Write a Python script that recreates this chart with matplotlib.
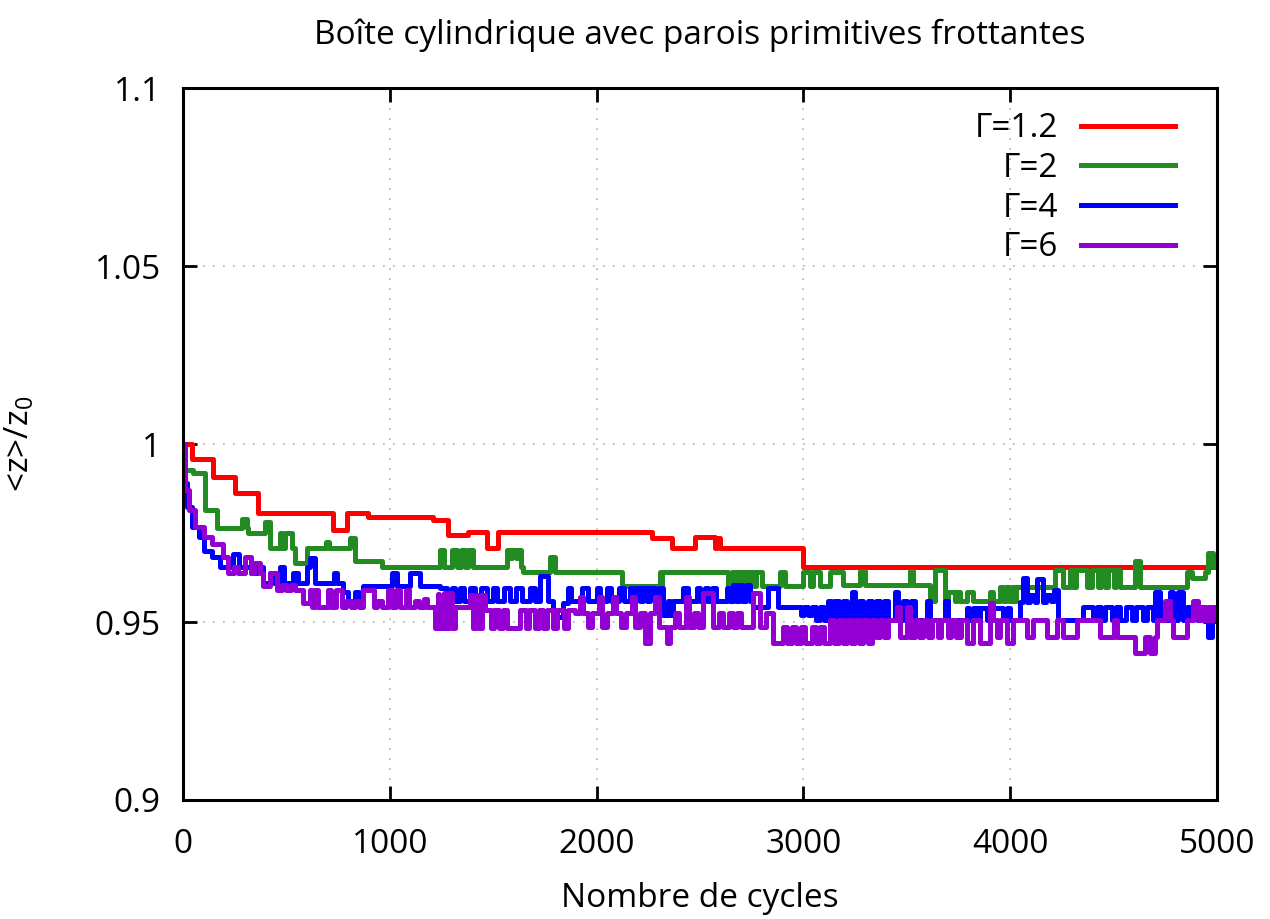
#!/usr/bin/env python3
"""Figure: <z>/z0 vs number of cycles, cylindrical box with rough primitive walls."""
import matplotlib
matplotlib.use("Agg")
import matplotlib.pyplot as plt
from matplotlib.ticker import FixedLocator, FuncFormatter

matplotlib.rcParams["font.family"] = ["Open Sans", "DejaVu Sans"]
matplotlib.rcParams["mathtext.fontset"] = "custom"
matplotlib.rcParams["mathtext.rm"] = "Open Sans"
matplotlib.rcParams["mathtext.it"] = "Open Sans"

# ── data (steps) ──────────────────────────────────────────────────────────────
red_x = [0, 45, 145, 250, 363, 725, 792, 895, 1209, 1282, 1378, 1470, 1523,
         2268, 2364, 2476, 2573, 2583, 2597, 2998, 5000]
red_y = [1.0, 0.9958, 0.9907, 0.9862, 0.9807, 0.9758, 0.9807, 0.9796, 0.9787,
         0.9744, 0.9753, 0.9707, 0.9753, 0.9735, 0.9707, 0.974, 0.9707, 0.9735,
         0.9707, 0.9655, 0.9655]

green_x = [0, 10, 48, 106, 164, 285, 310, 314, 397, 421, 469, 480, 495, 527,
           540, 600, 690, 705, 808, 832, 962, 1243, 1262, 1301, 1325, 1345,
           1364, 1378, 1402, 1567, 1580, 1590, 1610, 1620, 1635, 1644, 1775,
           1799, 2123, 2307, 2312, 2318, 2331, 2635, 2655, 2670, 2680, 2700,
           2710, 2730, 2740, 2760, 2770, 2800, 2887, 2911, 2998, 3032, 3046,
           3080, 3129, 3191, 3274, 3298, 3515, 3530, 3612, 3636, 3685, 3700,
           3733, 3745, 3755, 3791, 3820, 3903, 3917, 3950, 3965, 3980, 3995,
           4010, 4020, 4030, 4217, 4255, 4289, 4304, 4318, 4371, 4396, 4410,
           4425, 4440, 4460, 4475, 4500, 4510, 4530, 4604, 4628, 4855, 4880,
           4940, 4957, 4980, 5000]
green_y = [1.0, 0.9927, 0.9918, 0.9815, 0.9763, 0.979, 0.9763, 0.975, 0.978,
           0.9708, 0.975, 0.9708, 0.975, 0.9708, 0.9666, 0.9708, 0.9725, 0.9708,
           0.9735, 0.967, 0.9655, 0.9702, 0.9655, 0.9702, 0.9655, 0.9702,
           0.9655, 0.9702, 0.9655, 0.9702, 0.968, 0.9702, 0.968, 0.9702, 0.9655,
           0.964, 0.9683, 0.964, 0.9602, 0.964, 0.9602, 0.964, 0.964, 0.9602,
           0.964, 0.9602, 0.964, 0.9602, 0.964, 0.9602, 0.964, 0.9602, 0.964,
           0.9602, 0.964, 0.9602, 0.964, 0.9602, 0.964, 0.9602, 0.964, 0.9605,
           0.9643, 0.9605, 0.9643, 0.9605, 0.956, 0.9646, 0.956, 0.9585, 0.956,
           0.9585, 0.956, 0.9585, 0.956, 0.9585, 0.956, 0.9598, 0.956, 0.9598,
           0.956, 0.9598, 0.956, 0.9598, 0.9646, 0.9598, 0.9646, 0.9598, 0.9646,
           0.9598, 0.9646, 0.9646, 0.9598, 0.9646, 0.9598, 0.9646, 0.9598,
           0.9646, 0.9598, 0.967, 0.9598, 0.964, 0.9625, 0.964, 0.9693, 0.9655,
           0.9655]

blue_x = [0, 8, 20, 45, 75, 100, 140, 180, 240, 270, 330, 360, 387, 420, 440,
          470, 490, 530, 555, 600, 614, 640, 730, 745, 775, 800, 830, 850, 870,
          1011, 1035, 1098, 1146, 1243, 1277, 1300, 1315, 1340, 1360, 1390,
          1410, 1440, 1470, 1500, 1520, 1550, 1580, 1610, 1640, 1680, 1700,
          1727, 1765, 1790, 1838, 1860, 1875, 1930, 1960, 2000, 2015, 2050,
          2070, 2110, 2130, 2160, 2175, 2190, 2210, 2225, 2245, 2260, 2280,
          2300, 2321, 2345, 2355, 2370, 2420, 2440, 2485, 2500, 2524, 2540,
          2560, 2575, 2631, 2645, 2660, 2675, 2690, 2705, 2720, 2740, 2756,
          2830, 2875, 2990, 3005, 3020, 3040, 3060, 3080, 3100, 3120, 3135,
          3150, 3170, 3190, 3210, 3235, 3250, 3270, 3290, 3310, 3330, 3350,
          3370, 3390, 3410, 3443, 3458, 3480, 3500, 3520, 3540, 3597, 3612,
          3685, 3700, 3791, 3800, 3820, 3844, 3854, 3888, 3903, 3965, 3985,
          3999, 4048, 4060, 4080, 4095, 4120, 4130, 4160, 4175, 4195, 4210,
          4231, 4352, 4400, 4420, 4440, 4460, 4490, 4510, 4530, 4560, 4590,
          4610, 4640, 4660, 4691, 4700, 4724, 4773, 4787, 4811, 4835, 4855,
          4870, 4885, 4905, 4920, 4942, 4957, 4976, 5000]
blue_y = [1.0, 0.989, 0.9823, 0.9767, 0.974, 0.970, 0.9683, 0.9655, 0.969,
          0.9655, 0.9637, 0.9655, 0.961, 0.9637, 0.961, 0.9655, 0.961, 0.9637,
          0.961, 0.9655, 0.968, 0.961, 0.9637, 0.961, 0.9584, 0.956, 0.9584,
          0.956, 0.960, 0.9637, 0.960, 0.9637, 0.960, 0.9595, 0.956, 0.9595,
          0.956, 0.9595, 0.956, 0.9595, 0.956, 0.9595, 0.956, 0.9595, 0.956,
          0.9595, 0.956, 0.9595, 0.956, 0.9595, 0.956, 0.963, 0.956, 0.9514,
          0.9553, 0.9595, 0.956, 0.9595, 0.956, 0.9595, 0.956, 0.9595, 0.956,
          0.9595, 0.956, 0.9595, 0.956, 0.9595, 0.956, 0.9595, 0.956, 0.9595,
          0.956, 0.9595, 0.952, 0.956, 0.952, 0.956, 0.9595, 0.956, 0.9595,
          0.956, 0.9595, 0.956, 0.9595, 0.956, 0.9595, 0.956, 0.9605, 0.956,
          0.9605, 0.956, 0.9605, 0.956, 0.9542, 0.9595, 0.9542, 0.952, 0.9542,
          0.952, 0.9542, 0.9506, 0.9542, 0.9506, 0.956, 0.9506, 0.956, 0.9506,
          0.956, 0.9506, 0.9584, 0.9506, 0.956, 0.9506, 0.956, 0.9506, 0.956,
          0.9506, 0.956, 0.9506, 0.9584, 0.9506, 0.956, 0.9506, 0.956, 0.9506,
          0.956, 0.9506, 0.956, 0.9506, 0.954, 0.9506, 0.954, 0.9506, 0.954,
          0.9506, 0.954, 0.9506, 0.954, 0.9506, 0.9556, 0.9624, 0.9556, 0.9575,
          0.9556, 0.962, 0.9556, 0.9575, 0.956, 0.959, 0.9506, 0.9542, 0.9506,
          0.9542, 0.9506, 0.9542, 0.9506, 0.9542, 0.9506, 0.9542, 0.9506,
          0.9542, 0.9506, 0.9542, 0.9506, 0.9584, 0.9506, 0.9584, 0.9506,
          0.9584, 0.9506, 0.9542, 0.9506, 0.9542, 0.9506, 0.9542, 0.9506,
          0.9458, 0.9542, 0.9542]

purple_x = [0, 8, 30, 60, 100, 140, 193, 218, 245, 265, 300, 330, 345, 370,
            387, 420, 454, 480, 500, 520, 540, 580, 614, 625, 640, 655, 700,
            715, 740, 770, 790, 810, 830, 850, 870, 925, 940, 960, 990, 1010,
            1030, 1050, 1080, 1095, 1120, 1140, 1165, 1180, 1219, 1232, 1240,
            1260, 1270, 1285, 1300, 1315, 1388, 1400, 1415, 1430, 1445, 1460,
            1490, 1505, 1530, 1545, 1567, 1630, 1660, 1675, 1700, 1720, 1740,
            1760, 1790, 1810, 1840, 1860, 1896, 1920, 1935, 1960, 1980, 2010,
            2025, 2050, 2080, 2095, 2120, 2140, 2170, 2185, 2210, 2234, 2258,
            2280, 2300, 2340, 2355, 2380, 2400, 2430, 2445, 2470, 2490, 2514,
            2563, 2590, 2610, 2640, 2660, 2680, 2700, 2756, 2790, 2820, 2853,
            2900, 2920, 2945, 2965, 2990, 3010, 3040, 3060, 3080, 3100, 3129,
            3150, 3170, 3190, 3210, 3230, 3250, 3270, 3290, 3310, 3330, 3350,
            3370, 3390, 3410, 3452, 3467, 3500, 3515, 3540, 3560, 3578, 3600,
            3620, 3650, 3665, 3700, 3715, 3740, 3760, 3791, 3820, 3854, 3903,
            3917, 3936, 3950, 3985, 4014, 4081, 4110, 4178, 4226, 4255, 4323,
            4435, 4500, 4515, 4604, 4652, 4676, 4700, 4710, 4750, 4773, 4787,
            4855, 4884, 4908, 4925, 4940, 4955, 4970, 4980, 5000]
purple_y = [1.0, 0.987, 0.9815, 0.9767, 0.974, 0.972, 0.9683, 0.9637, 0.9655,
            0.9637, 0.9683, 0.9637, 0.9665, 0.9637, 0.960, 0.9637, 0.959,
            0.9605, 0.959, 0.9605, 0.959, 0.9553, 0.959, 0.9542, 0.959, 0.9542,
            0.959, 0.9542, 0.959, 0.9542, 0.956, 0.9542, 0.956, 0.9542, 0.959,
            0.9542, 0.956, 0.9542, 0.959, 0.9542, 0.959, 0.9542, 0.959, 0.9542,
            0.956, 0.9542, 0.9565, 0.9542, 0.9483, 0.958, 0.9483, 0.9581,
            0.9483, 0.9581, 0.9483, 0.9542, 0.9575, 0.9483, 0.9575, 0.9483,
            0.9575, 0.9534, 0.9483, 0.9534, 0.9483, 0.9534, 0.9483, 0.9534,
            0.9483, 0.9534, 0.9483, 0.9534, 0.9483, 0.9534, 0.9483, 0.9534,
            0.9483, 0.9534, 0.9525, 0.957, 0.9525, 0.9486, 0.9525, 0.957,
            0.9486, 0.9525, 0.957, 0.9525, 0.9486, 0.9525, 0.957, 0.9486,
            0.9525, 0.944, 0.9525, 0.957, 0.9486, 0.944, 0.9486, 0.9525, 0.9486,
            0.957, 0.9486, 0.9525, 0.9486, 0.9581, 0.9486, 0.9525, 0.9486,
            0.9525, 0.9486, 0.9525, 0.9486, 0.9581, 0.9486, 0.9525, 0.944,
            0.9486, 0.944, 0.9486, 0.944, 0.9486, 0.944, 0.9486, 0.944, 0.9486,
            0.944, 0.9506, 0.944, 0.9506, 0.944, 0.9506, 0.944, 0.9506, 0.944,
            0.9506, 0.944, 0.9506, 0.9458, 0.9506, 0.9458, 0.9506, 0.9542,
            0.9458, 0.9542, 0.9458, 0.9506, 0.9458, 0.9506, 0.9458, 0.9506,
            0.9458, 0.9506, 0.9458, 0.9506, 0.9458, 0.9506, 0.944, 0.9506,
            0.944, 0.9553, 0.9506, 0.9458, 0.9506, 0.944, 0.9506, 0.9458,
            0.9506, 0.9458, 0.9506, 0.9458, 0.9506, 0.9458, 0.9506, 0.9458,
            0.9413, 0.9458, 0.9413, 0.9458, 0.9506, 0.956, 0.9506, 0.9458,
            0.9506, 0.956, 0.9506, 0.9542, 0.9506, 0.9542, 0.9506, 0.9542,
            0.9542]

series = [
    ("Γ=1.2", red_x, red_y, "#ff0000"),
    ("Γ=2", green_x, green_y, "#228b22"),
    ("Γ=4", blue_x, blue_y, "#0000ff"),
    ("Γ=6", purple_x, purple_y, "#9400d3"),
]

x_ticks = [0, 1000, 2000, 3000, 4000, 5000]
y_ticks = [0.9, 0.95, 1.0, 1.05, 1.1]
y_tick_labels = ["0.9", "0.95", "1", "1.05", "1.1"]

FS = 24

# ── figure ────────────────────────────────────────────────────────────────────
fig = plt.figure(figsize=(12.7, 9.19), dpi=100)
ax = fig.add_axes([0.1441, 0.1295, 0.8142, 0.7747])

for label, xs, ys, col in series:
    ax.plot(xs, ys, drawstyle="steps-post", color=col, lw=3.6, label=label)

ax.set_xlim(0, 5000)
ax.set_ylim(0.9, 1.1)
ax.xaxis.set_major_locator(FixedLocator(x_ticks))
ax.yaxis.set_major_locator(FixedLocator(y_ticks))
ax.yaxis.set_major_formatter(FuncFormatter(
    lambda v, i: y_tick_labels[y_ticks.index(round(v, 2))] if round(v, 2) in y_ticks else ""))

ax.grid(True, color="#b0b0b0", linestyle=(0, (1, 5)), linewidth=1.2)
ax.tick_params(axis="both", direction="in", length=10, width=2,
               top=True, right=True, labelsize=FS)
ax.tick_params(axis="x", pad=20)
ax.tick_params(axis="y", pad=16)
for spine in ax.spines.values():
    spine.set_linewidth(2.2)

ax.set_title("Boîte cylindrique avec parois primitives frottantes",
             fontsize=FS, pad=32)
ax.set_xlabel("Nombre de cycles", fontsize=FS, labelpad=15)
ax.set_ylabel("<z>/z$_0$", fontsize=FS, labelpad=42)

ax.legend(loc="upper right", bbox_to_anchor=(0.988, 1.008), frameon=False,
          markerfirst=False, handlelength=2.8, handletextpad=0.7,
          labelspacing=0.2, fontsize=FS)

fig.savefig("out.png", dpi=100)
plt.close(fig)
